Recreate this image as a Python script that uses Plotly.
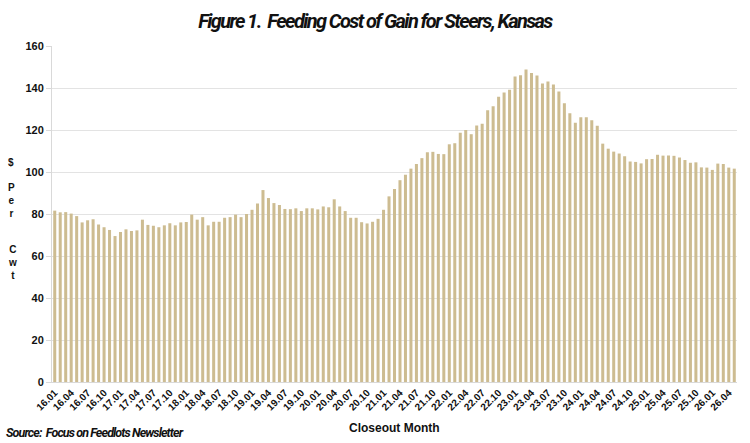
import plotly.graph_objects as go

# Closeout months 16.01 ... 26.05
months = [f"{y:02d}.{m:02d}" for y in range(16, 27) for m in range(1, 13)][:125]

cost_of_gain = [
    81.6, 80.8, 80.9, 80.2, 79.0, 76.0, 77.0, 77.5, 75.0, 73.7, 72.4, 69.5,
    71.4, 72.7, 71.9, 72.2, 77.3, 74.8, 74.4, 73.7, 74.6, 75.6, 74.6, 76.0,
    76.2, 79.7, 77.3, 78.5, 74.6, 76.3, 76.3, 78.2, 78.5, 79.7, 78.5, 80.0,
    82.0, 85.0, 91.4, 87.6, 85.2, 84.3, 82.4, 82.3, 82.7, 81.4, 82.7, 82.7,
    82.2, 83.6, 83.2, 87.0, 83.6, 81.4, 78.2, 78.2, 76.1, 75.5, 76.3, 77.7,
    82.0, 88.4, 91.9, 96.1, 98.7, 101.6, 103.8, 106.6, 109.4, 109.6, 108.6, 108.5,
    113.2, 113.7, 118.7, 120.0, 118.0, 122.2, 123.0, 129.4, 131.3, 135.8, 137.8, 139.2,
    145.5, 146.1, 148.8, 147.1, 146.0, 142.2, 143.1, 141.7, 138.3, 132.7, 128.0, 123.5,
    126.1, 126.1, 124.7, 122.0, 113.5, 111.1, 109.7, 108.8, 107.5, 105.0, 104.8, 104.1,
    106.1, 106.2, 108.2, 107.8, 107.9, 107.7, 106.9, 105.7, 104.4, 104.6, 102.2, 102.1,
    101.0, 104.0, 103.8, 102.1, 101.6,
]

tick_labels = months[::3]
y_ticks = [0, 20, 40, 60, 80, 100, 120, 140, 160]

title_text = "Figure 1.  Feeding Cost of Gain for Steers, Kansas"
source_text = "Source:  Focus on Feedlots Newsletter"
x_title = "Closeout Month"

narrow = "Roboto, Liberation Sans, sans-serif"
arial = "Liberation Sans, Arial, sans-serif"

def py(ypx):
    # pixel row -> paper y (plot area spans rows 46..382)
    return (382 - ypx) / 336

def tight(s, ls):
    return f'<span style="letter-spacing:{ls}px">{s}</span>'

ylab_font = dict(family=arial, size=10, color="#111", weight="bold")

fig = go.Figure(
    go.Bar(
        x=months,
        y=cost_of_gain,
        marker=dict(color="#CDBC91", line=dict(width=0)),
    )
)

fig.update_layout(
    width=750,
    height=443,
    margin=dict(l=52, r=13, t=46, b=61),
    paper_bgcolor="white",
    plot_bgcolor="white",
    bargap=0.45,
    showlegend=False,
    title=dict(
        text=tight(title_text, -1.6),
        x=0.5,
        xanchor="center",
        y=1 - 21 / 443,
        yanchor="middle",
        font=dict(family=narrow, size=20, color="#111", weight="bold", style="italic"),
    ),
    xaxis=dict(
        type="category",
        tickmode="array",
        tickvals=tick_labels,
        ticktext=tick_labels,
        tickangle=-45,
        tickfont=dict(family=arial, size=10, color="#111", weight="bold"),
        showgrid=False,
        showline=True,
        linecolor="#d9d9d9",
        linewidth=1,
        ticks="",
    ),
    yaxis=dict(
        range=[0, 160],
        tickvals=y_ticks,
        tickfont=dict(family=arial, size=11, color="#111", weight="bold"),
        showgrid=True,
        gridcolor="#e3e3e3",
        gridwidth=1,
        showline=True,
        linecolor="#d9d9d9",
        ticks="outside",
        ticklen=5,
        tickcolor="#d9d9d9",
        zeroline=False,
    ),
    annotations=[
        dict(text="$", x=6, y=py(155), xref="paper", yref="paper",
             showarrow=False, font=ylab_font),
        dict(text="P<br>e<br>r", x=6, y=py(200.5), xref="paper", yref="paper",
             showarrow=False, font=ylab_font),
        dict(text="C<br>w<br>t", x=6, y=py(262), xref="paper", yref="paper",
             showarrow=False, font=ylab_font),
        dict(text=x_title, x=0.5, y=py(428), xref="paper", yref="paper",
             xanchor="center", yanchor="middle", showarrow=False,
             font=dict(family=arial, size=12, color="#111", weight="bold")),
        dict(text=tight(source_text, -0.9), x=4, y=py(432), xref="paper", yref="paper",
             xanchor="left", yanchor="middle", showarrow=False,
             font=dict(family=narrow, size=12.5, color="#111", weight="bold", style="italic")),
    ],
)

# convert pixel x positions of the side annotations to paper coords
for ann in fig.layout.annotations:
    if ann.x is not None and ann.x > 1:
        ann.x = (ann.x - 52) / (750 - 52 - 13)

fig.write_html("out.html")
